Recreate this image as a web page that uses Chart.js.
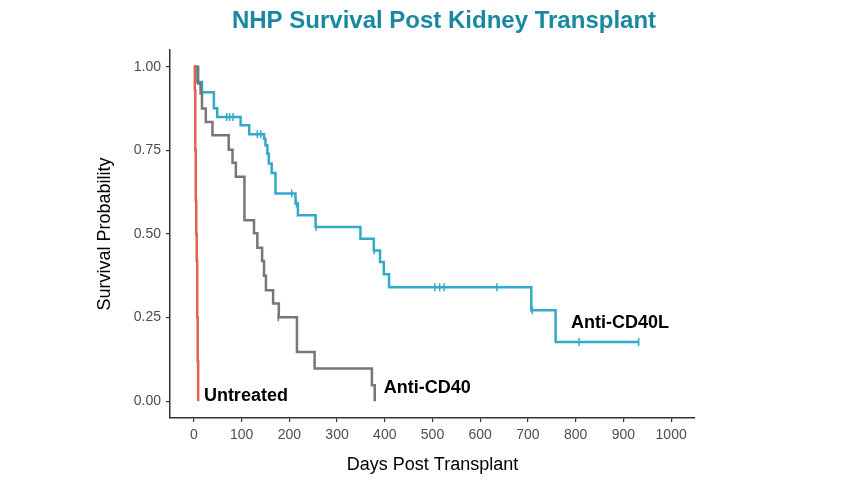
<!DOCTYPE html>
<html>
<head>
<meta charset="utf-8">
<script src="https://cdn.jsdelivr.net/npm/chart.js@4.4.1/dist/chart.umd.min.js"></script>
<style>
  body { margin: 0; background: #ffffff; }
  #wrap { width: 854px; height: 486px; }
</style>
</head>
<body>
<div id="wrap"><canvas id="kmChart" width="854" height="486"></canvas></div>
<script>
// Kaplan-Meier steps (days, survival after each drop)
const untreatedDays = [0, 2, 3, 4, 5, 6, 7, 8, 9];
const untreatedSurv = [1, 0.93, 0.75, 0.6, 0.5, 0.42, 0.25, 0.12, 0];

const cd40Days = [0, 9, 14, 17, 25, 39, 73, 81, 88, 106, 126, 133, 143, 147, 151, 166, 178, 216, 253, 373, 379];
const cd40Surv = [1, 0.95, 0.92, 0.875, 0.835, 0.795, 0.752, 0.713, 0.671, 0.541, 0.502, 0.459, 0.419, 0.375, 0.332, 0.292, 0.251, 0.147, 0.098, 0.048, 0];
const cd40CensorDays = [177];
const cd40CensorSurv = [0.251];

const cd40lDays = [0, 6, 17, 42, 49, 98, 116, 147, 150, 154, 157, 163, 171, 213, 218, 255, 349, 377, 390, 398, 409, 707, 758, 932];
const cd40lSurv = [1, 0.954, 0.924, 0.876, 0.85, 0.825, 0.798, 0.785, 0.765, 0.74, 0.711, 0.682, 0.621, 0.591, 0.556, 0.521, 0.486, 0.451, 0.416, 0.38, 0.341, 0.272, 0.177, 0.177];
const cd40lCensorDays = [69, 75, 82, 133, 140, 205, 215, 256, 378, 505, 515, 524, 635, 709, 807, 932];
const cd40lCensorSurv = [0.85, 0.85, 0.85, 0.798, 0.798, 0.621, 0.591, 0.521, 0.451, 0.341, 0.341, 0.341, 0.341, 0.272, 0.177, 0.177];

const xTicks = [0, 100, 200, 300, 400, 500, 600, 700, 800, 900, 1000];
const yTicks = [0, 0.25, 0.5, 0.75, 1];

// curve labels placed in data coordinates
const labelNames = ["Untreated", "Anti-CD40", "Anti-CD40L"];
const labelDays = [21, 398, 790];
const labelSurv = [0.015, 0.04, 0.233];

const blue = "#33a9ca";
const gray = "#777777";
const red = "#de6450";

function toPoints(xs, ys) {
  return xs.map((x, i) => ({ x: x, y: ys[i] }));
}

const titlePlugin = {
  id: "titleText",
  afterDraw(chart) {
    const ctx = chart.ctx;
    ctx.save();
    ctx.fillStyle = "#1a88a3";
    ctx.font = "bold 24px 'Liberation Sans', Arial, sans-serif";
    ctx.textAlign = "center";
    ctx.textBaseline = "alphabetic";
    ctx.fillText("NHP Survival Post Kidney Transplant", 444, 28);
    ctx.restore();
  }
};

const curveLabels = {
  id: "curveLabels",
  afterDatasetsDraw(chart) {
    const ctx = chart.ctx;
    const xs = chart.scales.x;
    const ys = chart.scales.y;
    ctx.save();
    ctx.fillStyle = "#000000";
    ctx.font = "bold 18px 'Liberation Sans', Arial, sans-serif";
    ctx.textAlign = "left";
    ctx.textBaseline = "middle";
    labelNames.forEach((name, i) => {
      ctx.fillText(name, xs.getPixelForValue(labelDays[i]), ys.getPixelForValue(labelSurv[i]));
    });
    ctx.restore();
  }
};

const lineStyle = { showLine: true, stepped: true, pointRadius: 0, borderWidth: 2.5, fill: false };
const censorStyle = { showLine: false, pointStyle: "line", pointRotation: 90, pointRadius: 4, borderWidth: 1.5 };

new Chart(document.getElementById("kmChart"), {
  type: "scatter",
  data: {
    datasets: [
      Object.assign({ label: "Untreated", data: toPoints(untreatedDays, untreatedSurv), borderColor: red }, lineStyle),
      Object.assign({ label: "Anti-CD40 censored", data: toPoints(cd40CensorDays, cd40CensorSurv), borderColor: gray }, censorStyle),
      Object.assign({ label: "Anti-CD40", data: toPoints(cd40Days, cd40Surv), borderColor: gray }, lineStyle),
      Object.assign({ label: "Anti-CD40L censored", data: toPoints(cd40lCensorDays, cd40lCensorSurv), borderColor: blue }, censorStyle),
      Object.assign({ label: "Anti-CD40L", data: toPoints(cd40lDays, cd40lSurv), borderColor: blue }, lineStyle)
    ]
  },
  options: {
    responsive: false,
    animation: false,
    devicePixelRatio: 1,
    layout: { padding: { left: 90, right: 159, top: 50, bottom: 6 } },
    plugins: {
      legend: { display: false },
      tooltip: { enabled: false }
    },
    scales: {
      x: {
        type: "linear",
        min: -50,
        max: 1050,
        afterBuildTicks(scale) { scale.ticks = xTicks.map(v => ({ value: v })); },
        afterFit(scale) { scale.height = 62; },
        ticks: {
          color: "#4d4d4d",
          padding: 5,
          maxRotation: 0,
          font: { family: "'Liberation Sans', Arial, sans-serif", size: 14 },
          callback: v => String(v)
        },
        grid: { drawOnChartArea: false, drawTicks: true, tickLength: 4, color: "#333333", lineWidth: 1.2 },
        border: { display: true, color: "#333333", width: 1.5 },
        title: {
          display: true,
          text: "Days Post Transplant",
          color: "#000000",
          font: { family: "'Liberation Sans', Arial, sans-serif", size: 18 }
        }
      },
      y: {
        type: "linear",
        min: -0.05,
        max: 1.05,
        afterBuildTicks(scale) { scale.ticks = yTicks.map(v => ({ value: v })); },
        afterFit(scale) { scale.width = 80; },
        ticks: {
          color: "#4d4d4d",
          padding: 5,
          font: { family: "'Liberation Sans', Arial, sans-serif", size: 14 },
          callback: v => Number(v).toFixed(2)
        },
        grid: { drawOnChartArea: false, drawTicks: true, tickLength: 4, color: "#333333", lineWidth: 1.2 },
        border: { display: true, color: "#333333", width: 1.5 },
        title: {
          display: true,
          text: "Survival Probability",
          color: "#000000",
          font: { family: "'Liberation Sans', Arial, sans-serif", size: 18 }
        }
      }
    }
  },
  plugins: [titlePlugin, curveLabels]
});
</script>
</body>
</html>
